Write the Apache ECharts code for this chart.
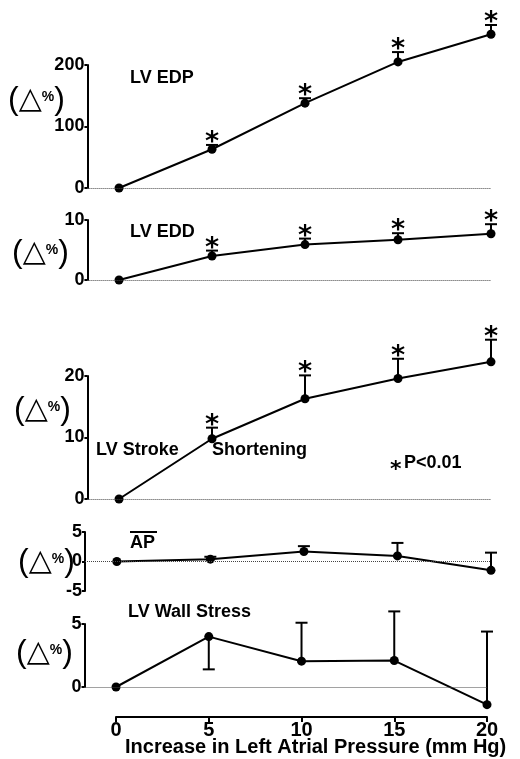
<!DOCTYPE html>
<html lang="en">
<head>
<meta charset="UTF-8" />
<title>LV response to left atrial pressure</title>
<script src="https://cdn.jsdelivr.net/npm/echarts@6/dist/echarts.min.js"></script>
<style>
  html, body { margin: 0; padding: 0; background: #fff; }
  #chart { width: 520px; height: 759px; }
</style>
</head>
<body>
<div id="chart"></div>
<script>
// x: increase in left atrial pressure (mm Hg)
const pressure = [0, 5, 10, 15, 20];
const pressureTicks = ["0", "5", "10", "15", "20"];

// mean change (%) and error bar length (signed: negative = drawn downward)
const edpMean = [0, 63, 138, 205, 250];
const edpErr = [0, 7, 8, 16, 15];
const eddMean = [0, 4.0, 5.9, 6.7, 7.7];
const eddErr = [0, 0.9, 1.0, 1.1, 1.6];
const shortMean = [0, 9.8, 16.3, 19.6, 22.3];
const shortErr = [0, 1.8, 3.8, 3.2, 3.6];
const apMean = [0, 0.4, 1.7, 0.95, -1.5];
const apErr = [0, 0.4, 0.9, 2.2, 3.0];
const wallMean = [0, 4.0, 2.05, 2.1, -1.4];
const wallErr = [0, -2.6, 3.05, 3.9, 5.8];

// P<0.01 markers
const starsYes = [0, 1, 1, 1, 1];
const starsNo = [0, 0, 0, 0, 0];

const FONT = "Liberation Sans";

// one entry per panel: data + where it sits on the page
const panels = [
  { mean: edpMean, err: edpErr, stars: starsYes, min: 0, max: 200, step: 100,
    grid: { left: 87.4, right: 29, top: 65, height: 123 } },
  { mean: eddMean, err: eddErr, stars: starsYes, min: 0, max: 10, step: 10,
    grid: { left: 87.4, right: 29, top: 220, height: 60 } },
  { mean: shortMean, err: shortErr, stars: starsYes, min: 0, max: 20, step: 10,
    grid: { left: 87.4, right: 29, top: 376, height: 123 } },
  { mean: apMean, err: apErr, stars: starsNo, min: -5, max: 5, step: 5,
    grid: { left: 85, right: 29, top: 532, height: 59 } },
  { mean: wallMean, err: wallErr, stars: starsNo, min: 0, max: 5, step: 5,
    grid: { left: 84.5, right: 33, top: 624, height: 63 } }
];

function renderErr(params, api) {
  const x = api.value(0), m = api.value(1), e = api.value(2), star = api.value(3);
  if (!e) return null;
  const p0 = api.coord([x, m]);
  const p1 = api.coord([x, m + e]);
  const kids = [
    { type: "line", shape: { x1: p0[0], y1: p0[1], x2: p1[0], y2: p1[1] },
      style: { stroke: "#000", lineWidth: 2 } },
    { type: "line", shape: { x1: p1[0] - 6, y1: p1[1], x2: p1[0] + 6, y2: p1[1] },
      style: { stroke: "#000", lineWidth: 2 } }
  ];
  if (star) {
    kids.push({ type: "text", x: p1[0], y: p1[1] - 2,
      style: { text: "*", fill: "#000", font: "bold 27px 'DejaVu Sans'",
               textAlign: "center", textVerticalAlign: "middle" } });
  }
  return { type: "group", children: kids };
}

const grids = [], xAxes = [], yAxes = [], series = [];

panels.forEach(function (p, i) {
  grids.push(p.grid);
  xAxes.push({ type: "value", gridIndex: i, min: -1.7, max: 20, show: false });
  yAxes.push({
    type: "value", gridIndex: i, min: p.min, max: p.max, interval: p.step,
    axisLine: { show: true, onZero: false, lineStyle: { color: "#000", width: 2 } },
    axisTick: { show: true, length: 3, lineStyle: { color: "#000", width: 2 } },
    axisLabel: { color: "#000", fontFamily: FONT, fontWeight: "bold", fontSize: 18, margin: 3 },
    splitLine: { show: false }
  });
  series.push({
    type: "line", xAxisIndex: i, yAxisIndex: i, clip: false, z: 3,
    data: pressure.map(function (x, k) { return [x, p.mean[k]]; }),
    symbol: "circle", symbolSize: 9, showSymbol: true,
    itemStyle: { color: "#000" },
    lineStyle: { color: "#000", width: 2 },
    markLine: {
      silent: true, symbol: "none", label: { show: false },
      lineStyle: { type: "dotted", color: "#444", width: 1 },
      data: [{ yAxis: 0 }]
    }
  });
  series.push({
    type: "custom", xAxisIndex: i, yAxisIndex: i, clip: false, z: 2,
    renderItem: renderErr,
    data: pressure.map(function (x, k) { return [x, p.mean[k], p.err[k], p.stars[k]]; })
  });
});

// shared pressure axis at the bottom
grids.push({ left: 116, right: 33, top: 690, height: 27 });
xAxes.push({
  type: "value", gridIndex: 5, min: 0, max: 20, interval: 5,
  axisLine: { show: true, onZero: false, lineStyle: { color: "#000", width: 2 } },
  axisTick: { show: true, length: 5, lineStyle: { color: "#000", width: 2 } },
  axisLabel: { color: "#000", fontFamily: FONT, fontWeight: "bold", fontSize: 20, margin: 3,
    formatter: function (v) { return pressureTicks[pressure.indexOf(v)]; } },
  splitLine: { show: false }
});
yAxes.push({ type: "value", gridIndex: 5, show: false });

// (△%) unit labels
const unitRich = {
  p: { fontFamily: FONT, fontSize: 32, fill: "#000" },
  t: { fontFamily: "DejaVu Sans", fontSize: 30, fill: "#000" },
  s: { fontFamily: FONT, fontWeight: "bold", fontSize: 14, fill: "#000", padding: [0, 0, 6, 0] }
};
const unitPos = [[8, 100], [12, 253], [14, 410], [18, 562], [16, 653]];

function label(txt, x, y, size) {
  return { type: "text", x: x, y: y,
    style: { text: txt, fill: "#000", font: "bold " + (size || 18) + "px '" + FONT + "'",
             textVerticalAlign: "middle" } };
}

const graphics = unitPos.map(function (u) {
  return { type: "text", x: u[0], y: u[1],
    style: { text: "{p|(}{t|△}{s|%}{p|)}", rich: unitRich, textVerticalAlign: "middle" } };
});
graphics.push(label("LV EDP", 130, 78));
graphics.push(label("LV EDD", 130, 232));
graphics.push(label("LV Stroke", 96, 450));
graphics.push(label("Shortening", 212, 450));
graphics.push({ type: "text", x: 390, y: 470,
  style: { text: "*", fill: "#000", font: "bold 22px 'DejaVu Sans'", textVerticalAlign: "middle" } });
graphics.push(label("P<0.01", 404, 463));
graphics.push(label("AP", 130, 543));
graphics.push({ type: "line", shape: { x1: 130, y1: 532, x2: 157, y2: 532 },
  style: { stroke: "#000", lineWidth: 2 } });
graphics.push(label("LV Wall Stress", 128, 612));
graphics.push(label("Increase in Left Atrial Pressure (mm Hg)", 125, 747, 20));

const chart = echarts.init(document.getElementById("chart"), null, { renderer: "canvas" });
chart.setOption({
  animation: false,
  backgroundColor: "#fff",
  grid: grids,
  xAxis: xAxes,
  yAxis: yAxes,
  series: series,
  graphic: graphics
});
</script>
</body>
</html>
